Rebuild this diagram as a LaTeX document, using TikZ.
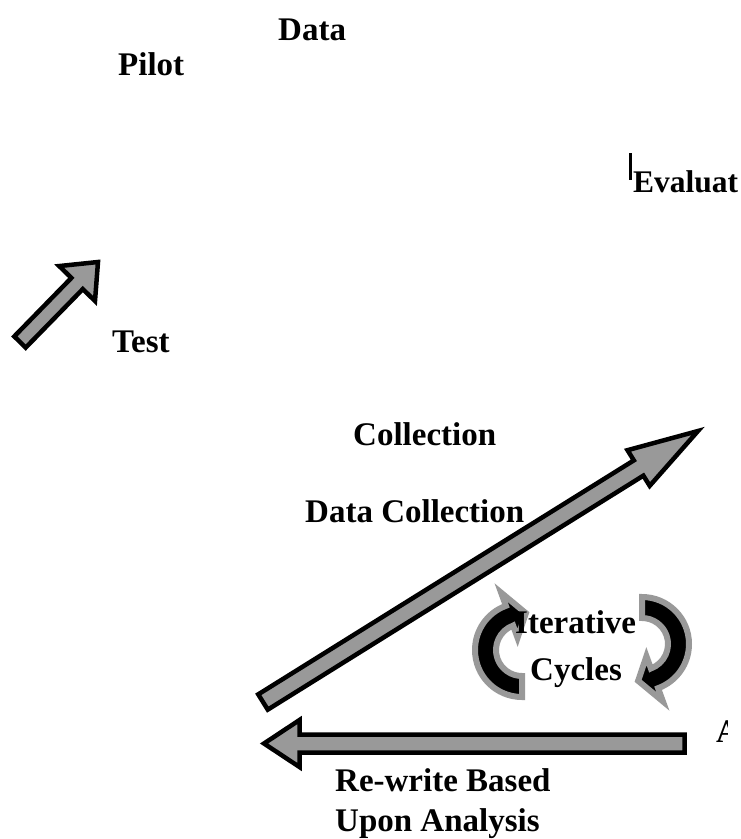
\documentclass[tikz,border=0pt]{standalone}
\usepackage{fontspec}
\setmainfont{Liberation Serif}
\definecolor{arrowgray}{gray}{0.6}
\definecolor{cyclegray}{gray}{0.6}
\begin{document}
\begin{tikzpicture}[x=1pt,y=-1pt,
  lbl/.style={anchor=base west, inner sep=0pt, font=\fontsize{33}{40}\selectfont\bfseries},
  blockarrow/.style={draw=black, fill=arrowgray, line width=4.5pt, line join=miter},
  cyclearrow/.style={draw=cyclegray, fill=black, line width=6pt, line join=miter}]
\useasboundingbox (0,0) rectangle (741,839);

% small arrow
\draw[blockarrow] (14.3,336.4) -- (71.4,277.9) -- (59.2,266.05) -- (98,262)
  -- (95.0,300.95) -- (82.8,289.1) -- (25.7,347.6) -- cycle;

% long diagonal arrow
\draw[blockarrow] (258.24,694.36) -- (633.84,460.36) -- (627.5,450.18) -- (698,431)
  -- (649.7,485.82) -- (643.36,475.64) -- (267.76,709.64) -- cycle;

% horizontal arrow
\draw[blockarrow] (684.5,734.5) -- (299.5,734.5) -- (299.5,720) -- (264,743.5)
  -- (299.5,767) -- (299.5,752.5) -- (684.5,752.5) -- cycle;

% cycle arrows
\begin{scope}[shift={(522,650)}, yscale=-1]
\draw[cyclearrow] (270:47) arc[start angle=270, end angle=110, radius=47]
  -- (110:61) -- (84:37) -- (110:13) -- (110:26)
  arc[start angle=110, end angle=270, radius=26] -- cycle;
\end{scope}
\begin{scope}[shift={(642,644)}, yscale=-1, rotate=180]
\draw[cyclearrow] (270:47) arc[start angle=270, end angle=110, radius=47]
  -- (110:61) -- (84:37) -- (110:13) -- (110:26)
  arc[start angle=110, end angle=270, radius=26] -- cycle;
\end{scope}

% texts
\node[lbl] (data) at (278,40) {Data};
\node[lbl] (pilot) at (118,75) {Pilot};
\node[lbl, font=\fontsize{31.5}{38}\selectfont\bfseries] (eval) at (633,192) {Evaluat};
\draw[line width=3pt] (630,153) -- (630,180);
\node[lbl] (test) at (112,352) {Test};
\node[lbl] (coll) at (353,445) {Collection};
\node[lbl] (dcoll) at (305,522) {Data Collection};
\node[lbl] (iter) at (515,633) {Iterative};
\node[lbl] (cyc) at (530,680) {Cycles};
\node[lbl] (rewrite) at (335,791) {Re-write Based};
\node[lbl] (upon) at (335,831) {Upon Analysis};
\begin{scope}
\clip (700,700) rectangle (727,760);
\node[lbl] (frag) at (716,742) {A};
\end{scope}
\end{tikzpicture}
\end{document}
